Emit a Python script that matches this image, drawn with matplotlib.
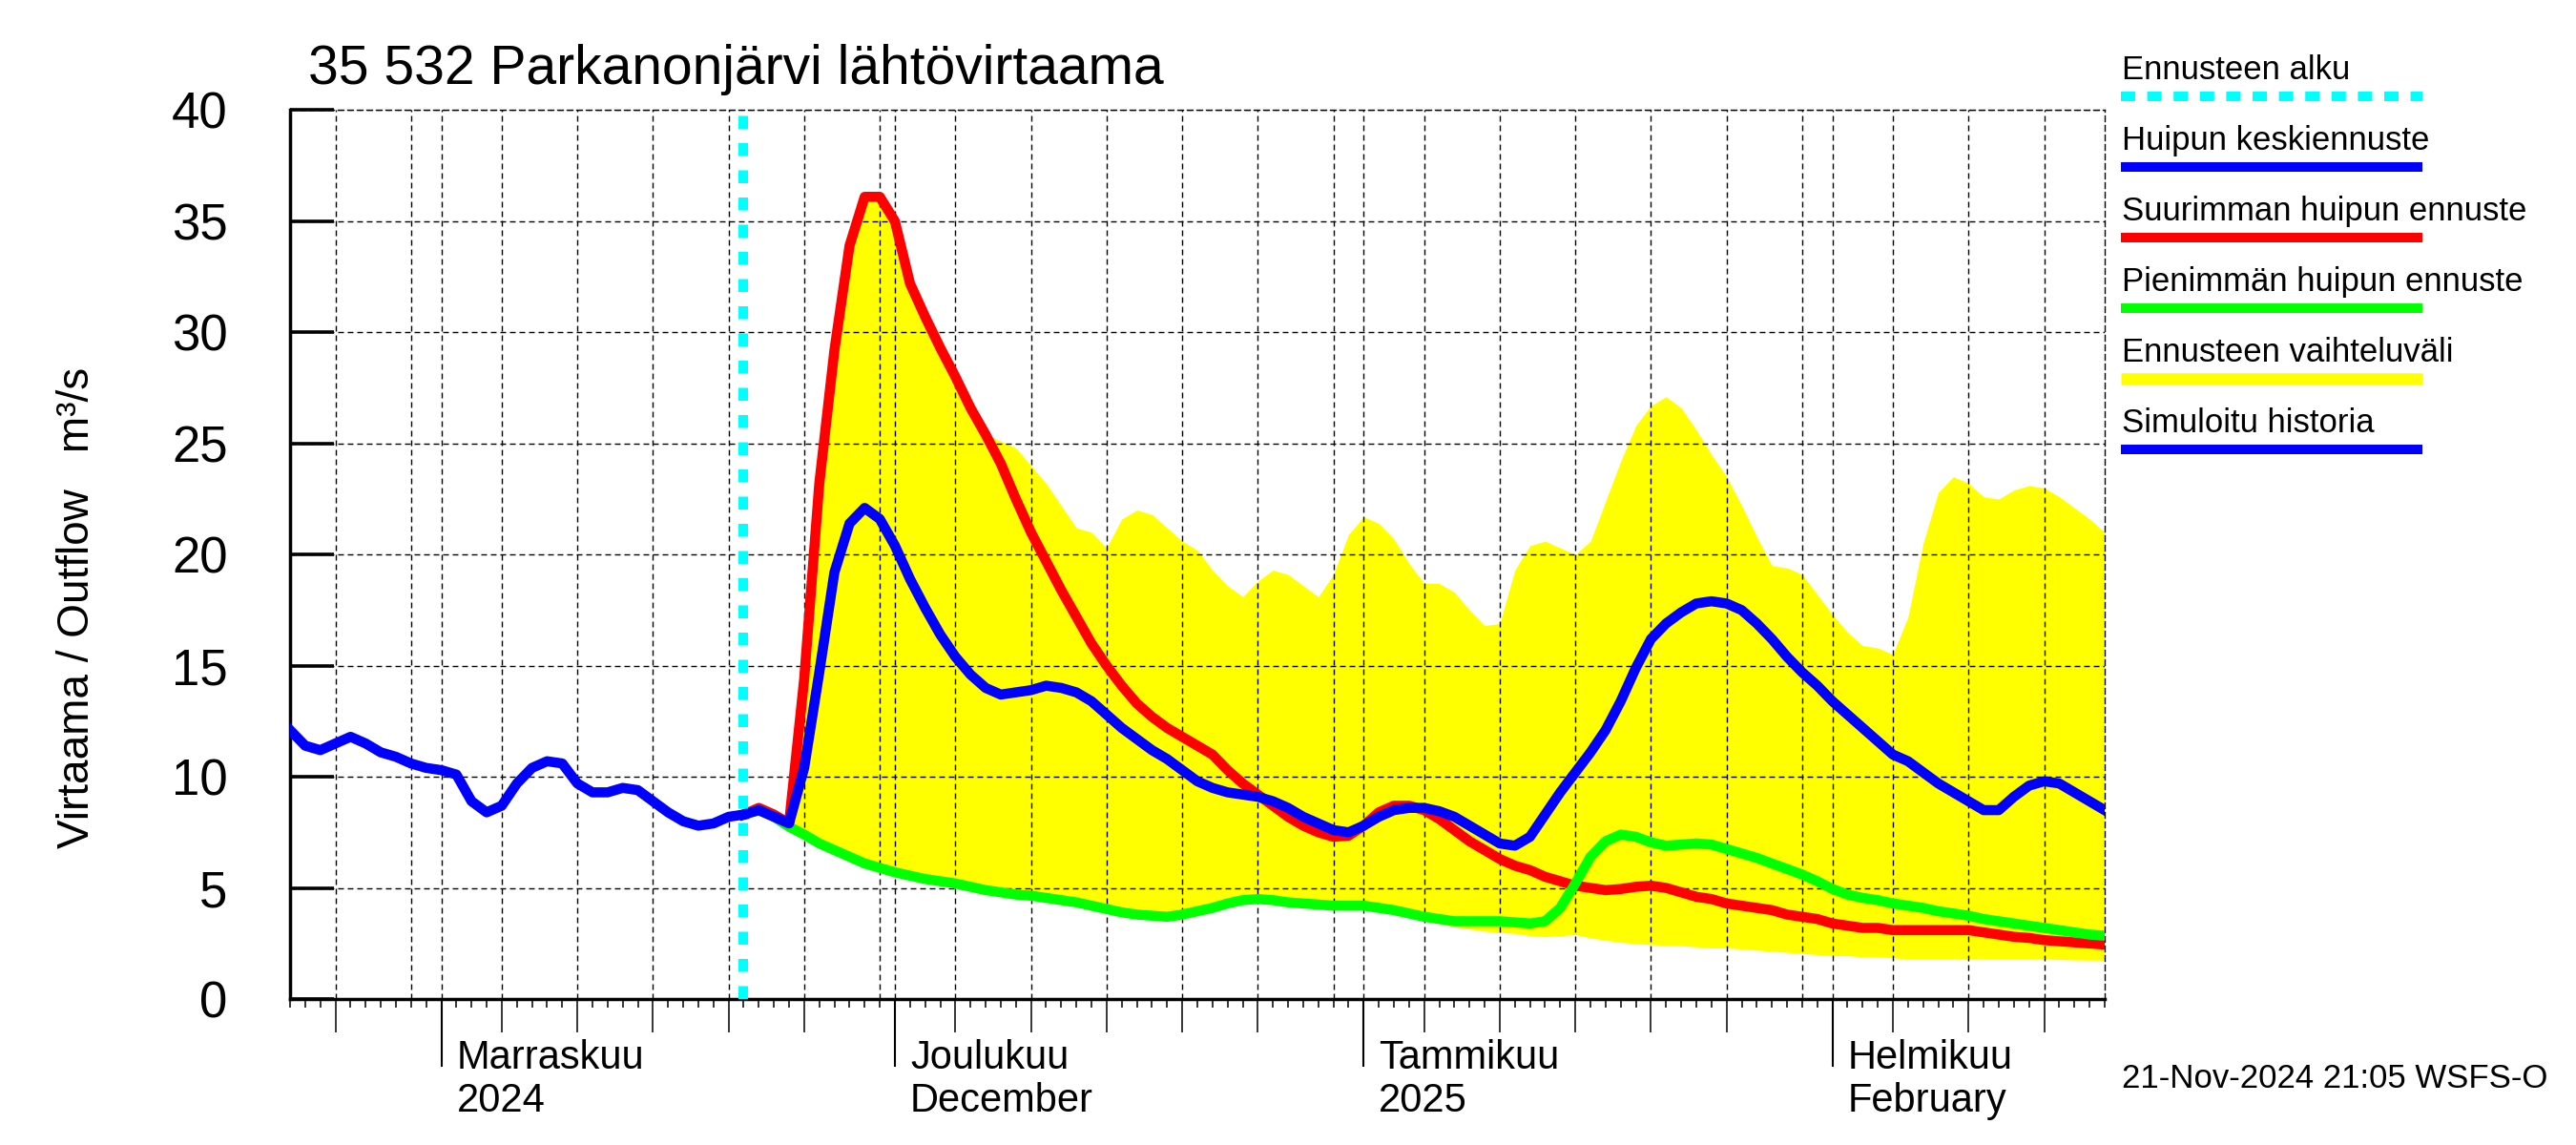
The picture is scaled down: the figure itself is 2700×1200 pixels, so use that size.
import numpy as np
import pandas as pd
import matplotlib
matplotlib.use("Agg")
import matplotlib.pyplot as plt
import matplotlib.dates as mdates
import matplotlib.transforms as mtransforms
from matplotlib.lines import Line2D

# Parkanonjärvi outflow forecast chart (WSFS style)

plt.rcParams['font.family'] = ['Liberation Sans', 'DejaVu Sans']

# ---- data -------------------------------------------------------------
x_start = "2024-10-22"
x_end = "2025-02-19"
hist_start = "2024-10-22"
forecast_start = "2024-11-21"

# simulated history, daily from hist_start
history = [12.1, 11.4, 11.2, 11.5, 11.8, 11.5, 11.1, 10.9, 10.6, 10.4,
           10.3, 10.1, 8.9, 8.4, 8.7, 9.7, 10.4, 10.7, 10.6, 9.7,
           9.3, 9.3, 9.5, 9.4, 8.9, 8.4, 8.0, 7.8, 7.9, 8.2,
           8.3]

# forecasts, daily from forecast_start
mean_fc = [8.3, 8.5, 8.2, 7.9, 10.4, 14.7, 19.2, 21.4, 22.1, 21.6,
           20.4, 18.9, 17.6, 16.4, 15.4, 14.6, 14.0, 13.7, 13.8, 13.9,
           14.1, 14.0, 13.8, 13.4, 12.8, 12.2, 11.7, 11.2, 10.8, 10.3,
           9.8, 9.5, 9.3, 9.2, 9.1, 8.9, 8.6, 8.2, 7.9, 7.6,
           7.5, 7.8, 8.2, 8.5, 8.6, 8.6, 8.45, 8.2, 7.8, 7.4,
           7.0, 6.9, 7.3, 8.3, 9.3, 10.2, 11.1, 12.1, 13.4, 14.9,
           16.2, 16.9, 17.4, 17.8, 17.9, 17.8, 17.5, 16.9, 16.2, 15.4,
           14.7, 14.1, 13.4, 12.8, 12.2, 11.6, 11.0, 10.7, 10.2, 9.7,
           9.3, 8.9, 8.5, 8.5, 9.1, 9.6, 9.8, 9.7, 9.3, 8.9,
           8.5]

max_fc = [8.3, 8.6, 8.3, 7.9, 14.4, 23.2, 29.2, 33.9, 36.1, 36.1,
          35.0, 32.2, 30.7, 29.3, 28.0, 26.6, 25.4, 24.1, 22.5, 21.0,
          19.7, 18.4, 17.2, 16.0, 15.0, 14.1, 13.3, 12.7, 12.2, 11.8,
          11.4, 11.0, 10.3, 9.7, 9.2, 8.7, 8.2, 7.8, 7.5, 7.3,
          7.35, 7.8, 8.4, 8.7, 8.7, 8.5, 8.1, 7.6, 7.1, 6.7,
          6.3, 6.0, 5.8, 5.5, 5.3, 5.1, 5.0, 4.9, 4.95, 5.05,
          5.1, 5.0, 4.8, 4.6, 4.5, 4.3, 4.2, 4.1, 4.0, 3.8,
          3.7, 3.6, 3.4, 3.3, 3.2, 3.2, 3.1, 3.1, 3.1, 3.1,
          3.1, 3.1, 3.0, 2.9, 2.8, 2.75, 2.65, 2.6, 2.55, 2.5,
          2.45]

min_fc = [8.3, 8.5, 8.2, 7.75, 7.4, 7.0, 6.7, 6.4, 6.1, 5.9,
          5.7, 5.55, 5.4, 5.3, 5.2, 5.05, 4.9, 4.8, 4.7, 4.65,
          4.55, 4.45, 4.35, 4.2, 4.05, 3.9, 3.8, 3.75, 3.7, 3.8,
          3.95, 4.1, 4.3, 4.45, 4.5, 4.45, 4.35, 4.3, 4.25, 4.2,
          4.2, 4.2, 4.1, 4.0, 3.85, 3.7, 3.6, 3.5, 3.5, 3.5,
          3.5, 3.45, 3.4, 3.5, 4.1, 5.2, 6.4, 7.1, 7.4, 7.3,
          7.05, 6.9, 6.95, 7.0, 6.95, 6.75, 6.55, 6.35, 6.1, 5.85,
          5.6, 5.3, 4.95, 4.7, 4.55, 4.45, 4.3, 4.2, 4.1, 3.95,
          3.85, 3.75, 3.6, 3.5, 3.4, 3.3, 3.2, 3.1, 3.0, 2.9,
          2.85]

range_hi = [8.3, 8.6, 8.3, 7.9, 14.4, 23.2, 29.2, 33.9, 36.1, 36.1,
            35.0, 32.2, 30.7, 29.3, 28.0, 26.6, 25.4, 25.1, 24.8, 24.0,
            23.2, 22.2, 21.2, 21.0, 20.3, 21.6, 22.0, 21.8, 21.2, 20.6,
            20.2, 19.3, 18.6, 18.1, 18.8, 19.3, 19.1, 18.6, 18.1, 19.1,
            20.9, 21.7, 21.4, 20.7, 19.6, 18.7, 18.7, 18.3, 17.5, 16.8,
            16.9, 19.3, 20.4, 20.6, 20.3, 20.0, 20.6, 22.4, 24.2, 25.8,
            26.7, 27.1, 26.6, 25.6, 24.5, 23.5, 22.2, 20.8, 19.5, 19.4,
            19.1, 18.2, 17.3, 16.5, 15.9, 15.8, 15.5, 17.2, 20.5, 22.8,
            23.5, 23.2, 22.6, 22.5, 22.9, 23.1, 23.0, 22.6, 22.1, 21.6,
            21.0]

range_lo = [8.3, 8.5, 8.2, 7.75, 7.4, 7.0, 6.7, 6.4, 6.1, 5.9,
            5.7, 5.55, 5.4, 5.3, 5.2, 5.05, 4.9, 4.8, 4.7, 4.65,
            4.55, 4.45, 4.35, 4.2, 4.05, 3.9, 3.8, 3.75, 3.7, 3.8,
            3.95, 4.1, 4.3, 4.45, 4.5, 4.45, 4.35, 4.3, 4.25, 4.1,
            4.1, 4.05, 3.95, 3.8, 3.7, 3.55, 3.4, 3.25, 3.15, 3.05,
            3.0, 2.95, 2.85, 2.8, 2.85, 2.9, 2.75, 2.65, 2.55, 2.5,
            2.45, 2.4, 2.4, 2.35, 2.3, 2.3, 2.25, 2.2, 2.15, 2.1,
            2.05, 2.0, 1.95, 1.95, 1.9, 1.9, 1.85, 1.8, 1.8, 1.8,
            1.8, 1.8, 1.8, 1.8, 1.8, 1.8, 1.8, 1.78, 1.76, 1.75,
            1.75]

month_starts = ["2024-11-01", "2024-12-01", "2025-01-01", "2025-02-01"]
month_line1 = ["Marraskuu", "Joulukuu", "Tammikuu", "Helmikuu"]
month_line2 = ["2024", "December", "2025", "February"]

legend_labels = ["Ennusteen alku", "Huipun keskiennuste",
                 "Suurimman huipun ennuste", "Pienimmän huipun ennuste",
                 "Ennusteen vaihteluväli", "Simuloitu historia"]

title = "35 532 Parkanonjärvi lähtövirtaama"
ylabel = "Virtaama / Outflow   m³/s"
stamp = "21-Nov-2024 21:05 WSFS-O"

# ---- colours / styles -------------------------------------------------
YEL, RED, BLUE, GREEN, CYAN = '#ffff00', '#ff0000', '#0000ff', '#00ff00', '#00ffff'
LW = 7.6
GRID_LS = (0, (4.3, 2.9))

hist_dates = pd.date_range(hist_start, periods=len(history), freq="D")
fc_dates = pd.date_range(forecast_start, periods=len(mean_fc), freq="D")

fig = plt.figure(figsize=(27, 12), dpi=100)
ax = fig.add_axes([0.1126, 0.1275, 0.7044, 0.7763])
ax.set_axisbelow(False)

ax.fill_between(fc_dates, range_lo, range_hi, color=YEL, lw=0, zorder=1)
ax.plot(fc_dates, max_fc, color=RED, lw=LW, zorder=4)
ax.plot(fc_dates, min_fc, color=GREEN, lw=LW, zorder=5)
ax.plot(fc_dates, mean_fc, color=BLUE, lw=LW, zorder=6)
ax.plot(hist_dates, history, color=BLUE, lw=LW, zorder=6)
ax.axvline(pd.Timestamp(forecast_start), color=CYAN, lw=7.2,
           linestyle=(0, (1.35, 1.5)), zorder=7)

# axes limits
ax.set_xlim(pd.Timestamp(x_start), pd.Timestamp(x_end))
ax.set_ylim(0, 40)

# y axis
ax.set_yticks(np.arange(0, 41, 5))
ax.tick_params(axis='y', direction='in', length=33, width=2.6, labelsize=38, pad=47)
ax.yaxis.grid(True, color='black', lw=1.0, linestyle=GRID_LS)

# x axis ticks
ax.xaxis.set_major_locator(mdates.DayLocator(bymonthday=[5, 10, 15, 20, 25]))
ax.xaxis.set_minor_locator(mdates.DayLocator())
ax.xaxis.set_major_formatter(plt.NullFormatter())
ax.tick_params(axis='x', which='major', direction='out', length=25, width=1.1)
ax.tick_params(axis='x', which='minor', direction='out', length=6.5, width=1.1)

# vertical grid lines: 1st, 5th, 10th ... 30th
all_days = pd.date_range(x_start, x_end, freq="D")
grid_days = all_days[all_days.day.isin([1, 5, 10, 15, 20, 25, 30])]
for d in grid_days:
    ax.axvline(d, color='black', lw=1.0, linestyle=GRID_LS, zorder=2.5)

# long month ticks and month labels
mdates_list = pd.to_datetime(month_starts)
ax.vlines(mdates_list, -0.0765, 0, transform=ax.get_xaxis_transform(),
          clip_on=False, color='black', lw=1.5)
lab_tr = mtransforms.offset_copy(ax.get_xaxis_transform(), fig=fig, x=16, y=0, units='dots')
for d, l1, l2 in zip(mdates_list, month_line1, month_line2):
    ax.text(d, -0.0784, l1, transform=lab_tr, fontsize=30, ha='left', va='baseline')
    ax.text(d, -0.1267, l2, transform=lab_tr, fontsize=30, ha='left', va='baseline')

# spines
for s in ['left', 'bottom']:
    ax.spines[s].set_linewidth(2.5)
for s in ['top', 'right']:
    ax.spines[s].set_linewidth(1.0)
    ax.spines[s].set_linestyle(GRID_LS)

# texts
fig.text(323 / 2700, 1 - 88 / 1200, title, fontsize=41, va='baseline', ha='left')
fig.text(0.030, 0.469, ylabel, rotation=90, fontsize=33, ha='center', va='center')
fig.text(2224 / 2700, 1 - 1140 / 1200, stamp, fontsize=25, va='baseline', ha='left')

# legend on the right
leg_colors = [CYAN, BLUE, RED, GREEN, YEL, BLUE]
for i, (lab, col) in enumerate(zip(legend_labels, leg_colors)):
    yb = 1 - (83 + 74 * i) / 1200
    yl = 1 - (100.7 + 74 * i) / 1200
    fig.text(2224 / 2700, yb, lab, fontsize=25, va='baseline', ha='left')
    if i == 0:
        ln = Line2D([2223 / 2700, 2539 / 2700], [yl, yl], color=col, lw=7.2,
                    linestyle=(0, (1.5, 1.26)), transform=fig.transFigure)
    else:
        ln = Line2D([2223 / 2700, 2539 / 2700], [yl, yl], color=col,
                    lw=9.0 if col == YEL else 7.2, solid_capstyle='butt',
                    transform=fig.transFigure)
    fig.add_artist(ln)

fig.savefig("out.png", dpi=100)
